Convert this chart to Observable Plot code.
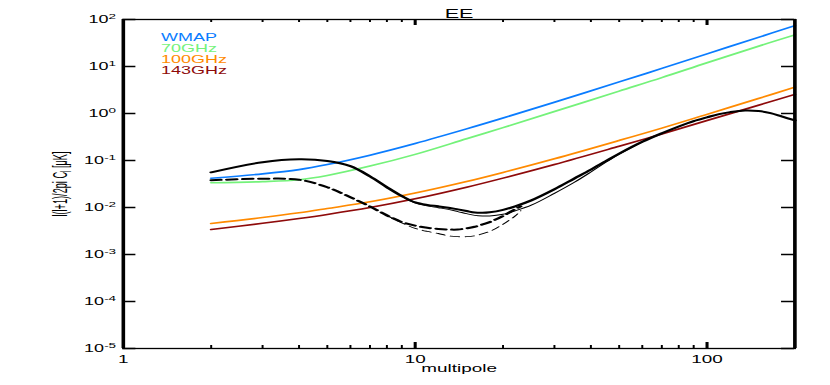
<!DOCTYPE html>
<html><head><meta charset="utf-8">
<script src="https://cdn.jsdelivr.net/npm/d3@7"></script>
<script src="https://cdn.jsdelivr.net/npm/@observablehq/plot@0.6"></script>
<style>html,body{margin:0;padding:0;background:#fff;} #chart svg{display:block;}</style>
</head><body><div id="chart"></div>
<script>
// ---- data ----
const noiseL = [2,3,4,5,7,10,15,20,30,50,70,100,150,200];
const wmap   = [0.042,0.052,0.064,0.082,0.13,0.23,0.47,0.80,1.74,4.7,9.1,18.6,41.7,74];
const ghz70  = [0.0335,0.0355,0.039,0.048,0.076,0.135,0.29,0.5,1.1,3.0,5.8,12.0,27,47];
const ghz100 = [0.00457,0.0061,0.0077,0.0095,0.0132,0.0203,0.0357,0.0558,0.109,0.267,0.489,0.96,2.08,3.64];
const ghz143 = [0.0034,0.00461,0.00584,0.00713,0.00998,0.0153,0.027,0.0422,0.0822,0.201,0.366,0.708,1.5,2.55];

const eeL     = [2,3,4,5,6,7,8,9,10,11,12,13,14,15,16,17,18,20,22,25,30,35,40,45,50,60,70,80,90,100,110,120,135,150,165,180,200];
const eeThick = [0.056,0.092,0.106,0.098,0.076,0.046,0.027,0.0175,0.0128,0.0113,0.0106,0.0099,0.0091,0.0084,0.0078,0.0077,0.0079,0.0089,0.0106,0.0142,0.0245,0.041,0.064,0.097,0.14,0.25,0.38,0.53,0.69,0.83,0.97,1.07,1.16,1.13,1.02,0.87,0.71];
const eeThinL = [9,10,11,12,13,14,15,16,17,18,20,22,25,30,35,40,45,50,60];
const eeThin  = [0.0175,0.0126,0.0108,0.0099,0.0091,0.0082,0.0074,0.0068,0.0066,0.0066,0.0072,0.0085,0.0112,0.020,0.034,0.057,0.092,0.137,0.25];

const reL      = [2,3,4,5,6,7,8,9,10,11,12,13,14,15,16,18,20,22,23];
const reThick  = [0.038,0.041,0.039,0.027,0.0165,0.0105,0.0068,0.0049,0.0041,0.0037,0.0035,0.0034,0.0034,0.0036,0.0039,0.0049,0.0066,0.0092,0.0106];
const reThinL  = [8,9,10,11,12,13,14,15,16,18,20,22,23];
const reThin   = [0.0068,0.0047,0.0036,0.0031,0.0028,0.0025,0.0024,0.0024,0.0025,0.0031,0.0044,0.0066,0.0085];

const seriesNames  = ["WMAP","70GHz","100GHz","143GHz"];
const seriesColors = ["#0a7cff","#74f27a","#ff8a00","#8e0a0a"];

const xDomain = [1,200];
const yDomain = [1e-5,1e2];
const yTicks = [1e-5,1e-4,1e-3,1e-2,1e-1,1e0,1e1,1e2];
const xLabelTicks = [1,10,100];
const xMajorTicks = [10,100];
const xMinorTicks = [2,3,4,5,6,7,8,9,20,30,40,50,60,70,80,90];

const titleText = "EE";
const xLabel = "multipole";
const yLabel = "l(l+1)/2pi C_l [μK]";

// ---- layout (drawn narrow, then stretched horizontally like the reference) ----
const W = 461, H = 385, mL = 68, mR = 20, mT = 19, mB = 37;
const pw = W - mL - mR, ph = H - mT - mB;
const rows = (ls, vs) => ls.map((l, i) => ({l, v: vs[i]}));
const noiseSeries = [wmap, ghz70, ghz100, ghz143];

const chart = Plot.plot({
  width: W, height: H,
  marginLeft: mL, marginRight: mR, marginTop: mT, marginBottom: mB,
  style: {fontFamily: "'Liberation Sans', Arial, sans-serif", background: "#fff", color: "#000", overflow: "visible"},
  x: {type: "log", domain: xDomain, axis: null},
  y: {type: "log", domain: yDomain, axis: null},
  marks: [
    ...noiseSeries.map((s, i) => Plot.line(rows(noiseL, s), {x: "l", y: "v", stroke: seriesColors[i], strokeWidth: 1.6, curve: "catmull-rom"})),
    Plot.line(rows(reL, reThick), {x: "l", y: "v", stroke: "#000", strokeWidth: 2, strokeDasharray: "5.5,3.3", curve: "catmull-rom"}),
    Plot.line(rows(reThinL, reThin), {x: "l", y: "v", stroke: "#000", strokeWidth: 0.9, strokeDasharray: "5,3.3", curve: "catmull-rom"}),
    Plot.line(rows(eeThinL, eeThin), {x: "l", y: "v", stroke: "#000", strokeWidth: 0.9, curve: "catmull-rom"}),
    Plot.line(rows(eeL, eeThick), {x: "l", y: "v", stroke: "#000", strokeWidth: 2, curve: "catmull-rom"}),
    Plot.frame({stroke: "#000", strokeWidth: 1.3}),
    Plot.ruleX(xDomain, {stroke: "#000", strokeWidth: 2}),
    Plot.tickY(yTicks, {stroke: "#000", strokeWidth: 1.5, insetRight: pw - 7.2}),
    Plot.tickY(yTicks, {stroke: "#000", strokeWidth: 1.5, insetLeft: pw - 7.2}),
    Plot.tickX(xMinorTicks, {stroke: "#000", strokeWidth: 1.1, insetTop: ph - 3}),
    Plot.tickX(xMinorTicks, {stroke: "#000", strokeWidth: 1.1, insetBottom: ph - 3}),
    Plot.tickX(xMajorTicks, {stroke: "#000", strokeWidth: 1.7, insetTop: ph - 6}),
    Plot.tickX(xMajorTicks, {stroke: "#000", strokeWidth: 1.7, insetBottom: ph - 6}),
    Plot.axisY({ticks: yTicks, anchor: "left", tickSize: 0, tickPadding: 4, fontSize: 10, label: null,
      tickFormat: d => "10^" + Math.round(Math.log10(d))}),
    Plot.axisX({ticks: xLabelTicks, anchor: "bottom", tickSize: 0, tickPadding: 7.5, fontSize: 10.5, label: null,
      tickFormat: d => String(d)}),
    Plot.text([titleText], {text: d => d, frameAnchor: "top", dy: -10.3, fontSize: 12, fill: "#000"}),
    Plot.text([xLabel], {text: d => d, frameAnchor: "bottom", dy: 23.5, fontSize: 10.5, fill: "#000"}),
    Plot.text([yLabel], {text: d => d, frameAnchor: "left", textAnchor: "middle", rotate: -90, dx: -35, fontSize: 11, fill: "#000"}),
    ...seriesNames.map((name, i) => Plot.text([name], {text: d => d, frameAnchor: "top-left", dx: 20.9, dy: 14 + 11 * i, fontSize: 10, fill: seriesColors[i]}))
  ]
});

document.getElementById("chart").append(chart);
chart.setAttribute("width", 830);
chart.setAttribute("height", 385);
chart.setAttribute("preserveAspectRatio", "none");
chart.style.width = "830px";
chart.style.height = "385px";
chart.style.maxWidth = "none";

const NS = "http://www.w3.org/2000/svg";
chart.querySelectorAll("text").forEach(t => {
  const m = /^10\^(-?\d+)$/.exec(t.textContent);
  if (m) {
    t.textContent = "10";
    const s = document.createElementNS(NS, "tspan");
    s.setAttribute("dy", "-4");
    s.style.fontSize = "7.5px";
    s.textContent = m[1];
    t.append(s);
  } else if (t.textContent === yLabel) {
    t.textContent = "l(l+1)/2pi C";
    const sub = document.createElementNS(NS, "tspan");
    sub.setAttribute("dy", "2.5");
    sub.style.fontSize = "8px";
    sub.textContent = "l";
    const rest = document.createElementNS(NS, "tspan");
    rest.setAttribute("dy", "-2.5");
    rest.textContent = " [μK]";
    t.append(sub, rest);
    t.setAttribute("textLength", "65");
    t.setAttribute("lengthAdjust", "spacingAndGlyphs");
  }
});
</script>
</body></html>
